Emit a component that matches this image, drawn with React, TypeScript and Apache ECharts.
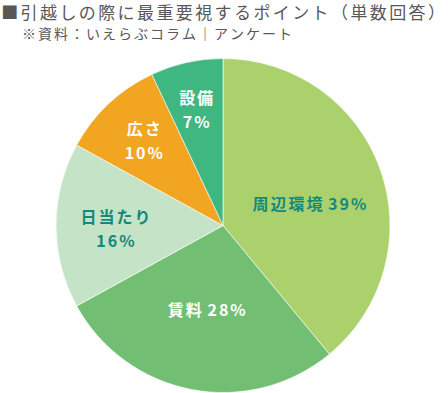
import React, { useEffect, useRef } from "react";
import * as echarts from "echarts";

const titleText = "■引越しの際に最重要視するポイント（単数回答）";
const sourceText = "※資料：いえらぶコラム｜アンケート";
const categories = ["周辺環境", "賃料", "日当たり", "広さ", "設備"];
const values = [39, 28, 16, 10, 7];
const twoLine = [false, false, true, true, true];

const sliceColors = ["#abd16c", "#72bf74", "#c5e3c6", "#f2a521", "#3fb781"];
const labelColors = ["#15897b", "#ffffff", "#15897b", "#ffffff", "#ffffff"];
const labelShift = [
  [5, 7],
  [0, -1],
  [-21, 2],
  [-20, -22],
  [-8, -32],
];

const spaced = (s: string, key: string) =>
  Array.from(s)
    .map((ch) => (ch === " " ? " " : `{${key}|${ch}}`))
    .join("");

export default function App() {
  const ref = useRef<HTMLDivElement>(null);
  useEffect(() => {
    if (!ref.current) return;
    const chart = echarts.init(ref.current, null, { renderer: "svg" });
    const font = '"Noto Sans CJK JP", "Noto Sans", sans-serif';
    chart.setOption({
      animation: false,
      textStyle: { fontFamily: font },
      title: [
        {
          text: spaced(titleText, "t"),
          left: 0,
          top: 3,
          padding: 0,
          textStyle: {
            fontSize: 17,
            lineHeight: 17,
            fontWeight: "normal",
            color: "#595757",
            fontFamily: font,
            rich: {
              t: { fontSize: 17, lineHeight: 17, color: "#595757", padding: [0, 1.2, 0, 1.2], fontFamily: font },
            },
          },
        },
        {
          text: spaced(sourceText, "s"),
          left: 21,
          top: 26,
          padding: 0,
          textStyle: {
            fontSize: 14,
            lineHeight: 14,
            fontWeight: "normal",
            color: "#595757",
            fontFamily: font,
            rich: {
              s: { fontSize: 14, lineHeight: 14, color: "#595757", padding: [0, 1, 0, 1], fontFamily: font },
            },
          },
        },
      ],
      series: [
        {
          type: "pie",
          center: [223, 225.5],
          radius: [0, 167],
          startAngle: 90,
          clockwise: true,
          itemStyle: { borderColor: "#ffffff", borderWidth: 0.6 },
          labelLine: { show: false },
          label: {
            show: true,
            position: "inside",
            fontSize: 16,
            fontWeight: "bold",
            lineHeight: 24,
            fontFamily: font,
          },
          labelLayout: (params: any) => ({
            dx: labelShift[params.dataIndex][0],
            dy: labelShift[params.dataIndex][1],
          }),
          data: categories.map((name, i) => ({
            name,
            value: values[i],
            itemStyle: { color: sliceColors[i] },
            label: {
              color: labelColors[i],
              formatter: spaced(name, "l") + (twoLine[i] ? "\n" : " ") + spaced(values[i] + "%", "l"),
              rich: {
                l: {
                  fontSize: 16,
                  fontWeight: "bold",
                  lineHeight: 24,
                  color: labelColors[i],
                  padding: [0, 1, 0, 1],
                  fontFamily: font,
                },
              },
            },
          })),
        },
      ],
    });
    return () => chart.dispose();
  }, []);
  return <div ref={ref} style={{ width: 448, height: 393, position: "absolute", left: 0, top: 0 }} />;
}
